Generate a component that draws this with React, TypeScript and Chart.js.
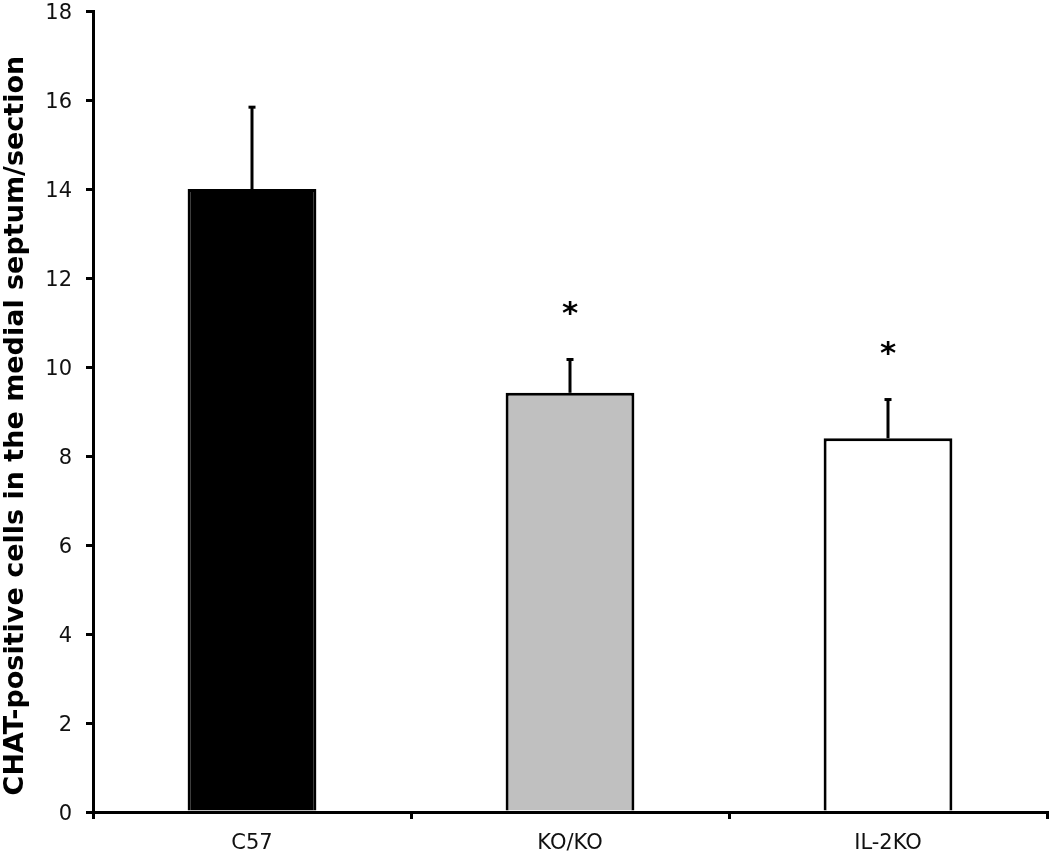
import React, { useEffect, useRef } from "react";
import { Chart, registerables } from "chart.js";

Chart.register(...registerables);

const categories = ["C57", "KO/KO", "IL-2KO"];
const means = [14.0, 9.42, 8.4];
const errors = [1.85, 0.76, 0.88];
const sigMarks = ["", "*", "*"];
const barColors = ["#000000", "#c0c0c0", "#ffffff"];
const yTicks = [0, 2, 4, 6, 8, 10, 12, 14, 16, 18];
const yTitle = "CHAT-positive cells in the medial septum/section";

const FONT = "'DejaVu Sans', Verdana, sans-serif";

const errorBarPlugin = {
  id: "errorBars",
  afterDatasetsDraw(chart: any) {
    const ctx = chart.ctx;
    const meta = chart.getDatasetMeta(0);
    const y = chart.scales.y;
    ctx.save();
    meta.data.forEach((bar: any, i: number) => {
      const x = bar.x;
      const top = y.getPixelForValue(means[i] + errors[i]);
      const base = y.getPixelForValue(means[i]);
      ctx.strokeStyle = "#000";
      ctx.lineWidth = 3;
      ctx.beginPath();
      ctx.moveTo(x, base);
      ctx.lineTo(x, top);
      ctx.stroke();
      ctx.beginPath();
      ctx.moveTo(x - 3.5, top + 0.5);
      ctx.lineTo(x + 3.5, top + 0.5);
      ctx.stroke();
      if (sigMarks[i]) {
        ctx.fillStyle = "#000";
        ctx.font = `bold 31px ${FONT}`;
        ctx.textAlign = "center";
        ctx.textBaseline = "middle";
        ctx.fillText(sigMarks[i], x, top - 44);
      }
    });
    ctx.restore();
  },
};

export default function App() {
  const ref = useRef<HTMLCanvasElement>(null);
  useEffect(() => {
    if (!ref.current) return;
    const chart = new Chart(ref.current, {
      type: "bar",
      data: {
        labels: categories,
        datasets: [
          {
            data: means,
            backgroundColor: barColors,
            borderColor: "#000",
            borderWidth: 3,
            barPercentage: 0.405,
            categoryPercentage: 1,
          },
        ],
      },
      options: {
        animation: false,
        responsive: false,
        maintainAspectRatio: false,
        layout: { padding: { top: 11, right: 3, left: 0, bottom: 0 } },
        plugins: { legend: { display: false }, tooltip: { enabled: false } },
        scales: {
          x: {
            grid: {
              offset: true,
              drawOnChartArea: false,
              drawTicks: true,
              tickLength: 7,
              color: "#000",
              lineWidth: 3,
            },
            border: { color: "#000", width: 3 },
            ticks: {
              color: "#111",
              font: { family: FONT, size: 21 },
              padding: 12,
            },
            afterFit(scale: any) {
              scale.height = 42;
              scale.paddingLeft = 0;
              scale.paddingRight = 0;
            },
          },
          y: {
            min: 0,
            max: 18,
            afterBuildTicks(scale: any) {
              scale.ticks = yTicks.map((v) => ({ value: v }));
            },
            grid: {
              drawOnChartArea: false,
              drawTicks: true,
              tickLength: 7,
              color: "#000",
              lineWidth: 3,
            },
            border: { color: "#000", width: 3 },
            ticks: {
              color: "#111",
              font: { family: FONT, size: 21 },
              padding: 14,
              labelOffset: 3,
            },
            title: {
              display: true,
              text: yTitle + "   ",
              color: "#000",
              font: { family: FONT, size: 27, weight: "bold" },
              padding: { top: 0, bottom: 0 },
            },
            afterFit(scale: any) {
              scale.width = 93;
              scale.paddingTop = 0;
              scale.paddingBottom = 0;
            },
          },
        },
      },
      plugins: [errorBarPlugin],
    });
    return () => chart.destroy();
  }, []);
  return (
    <div style={{ position: "fixed", left: 0, top: 0, width: 1050, height: 854, background: "#fff" }}>
      <canvas ref={ref} width={1050} height={854} style={{ width: 1050, height: 854 }} />
    </div>
  );
}
